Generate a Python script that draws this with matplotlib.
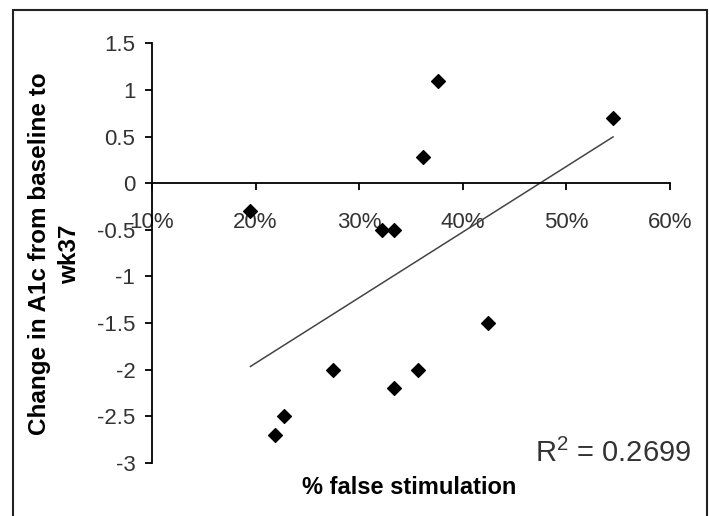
import numpy as np
import matplotlib
matplotlib.use("Agg")
import matplotlib.pyplot as plt
from matplotlib.patches import Rectangle
from matplotlib.ticker import FuncFormatter

# datos
false_stim = [0.195, 0.219, 0.227, 0.275, 0.322, 0.334, 0.334, 0.357, 0.3615, 0.376, 0.424, 0.545]
a1c_change = [-0.3, -2.7, -2.5, -2.0, -0.5, -0.5, -2.2, -2.0, 0.28, 1.1, -1.5, 0.7]
x_ticks = [0.1, 0.2, 0.3, 0.4, 0.5, 0.6]
y_ticks = [1.5, 1, 0.5, 0, -0.5, -1, -1.5, -2, -2.5, -3]
r2_label = "R$^2$ = 0.2699"

plt.rcParams['font.family'] = ['Liberation Sans', 'DejaVu Sans']
plt.rcParams['mathtext.fontset'] = 'custom'
plt.rcParams['mathtext.rm'] = 'Liberation Sans'

fig = plt.figure(figsize=(7.09, 5.16), dpi=100)
ax = fig.add_axes([152/709, 1 - 463/516, (670-152)/709, (463-43.3)/516])

ax.scatter(false_stim, a1c_change, marker='D', s=7**2, color='black', zorder=3)

# linea de tendencia
m, b = np.polyfit(false_stim, a1c_change, 1)
xs = np.array([min(false_stim), max(false_stim)])
ax.plot(xs, m*xs + b, color='#444444', lw=1.1, zorder=2)

ax.set_xlim(0.1, 0.6)
ax.set_ylim(-3, 1.5)
ax.set_xticks(x_ticks)
ax.set_yticks(y_ticks)
ax.xaxis.set_major_formatter(FuncFormatter(lambda v, p: f"{v*100:.0f}%"))
ax.yaxis.set_major_formatter(FuncFormatter(lambda v, p: f"{v:g}"))

for s in ['top', 'right']:
    ax.spines[s].set_visible(False)
ax.spines['bottom'].set_position(('data', 0))
ax.spines['left'].set_linewidth(1.3)
ax.spines['bottom'].set_linewidth(1.3)

ax.tick_params(axis='both', direction='out', length=5, width=1.3, labelsize=16, labelcolor='#333333')
ax.tick_params(axis='x', pad=16)
ax.tick_params(axis='y', pad=7)

fig.text(0.077, 1 - 254/516, "Change in A1c from baseline to\nwk37", rotation=90,
         ha='center', va='center', fontsize=17.5, fontweight='bold', linespacing=1.35)
fig.text(409/709, 1 - 488/516, "% false stimulation", ha='center', va='center',
         fontsize=17, fontweight='bold')
fig.text(691/709, 1 - 453/516, r2_label, ha='right', va='center', fontsize=21,
         color='#333333')

fig.patches.append(Rectangle((12.5/709, -0.1), (707-12.5)/709, 1.1 - 9.5/516,
                             transform=fig.transFigure, fill=False, lw=1.5,
                             edgecolor='#222222'))

fig.savefig("out.png", dpi=100)
plt.close("all")
